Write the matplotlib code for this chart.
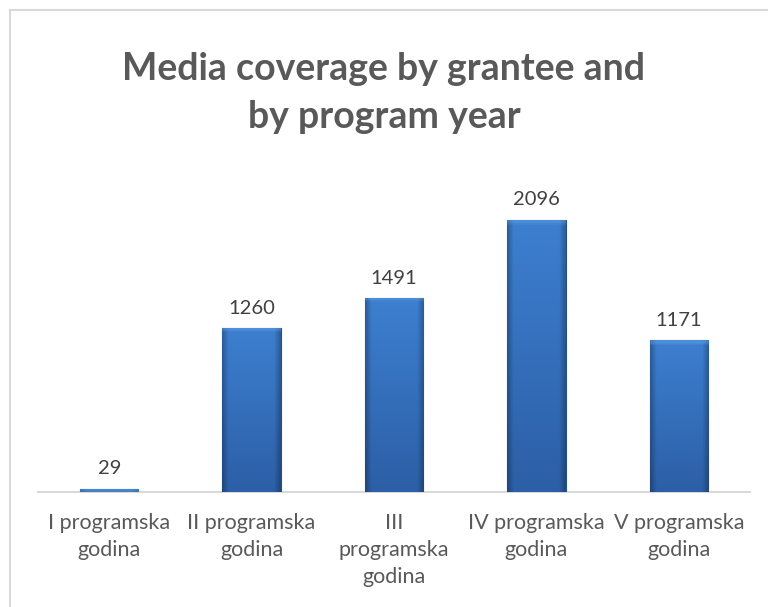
import matplotlib
matplotlib.use('Agg')
import matplotlib.pyplot as plt
import numpy as np
from matplotlib.colors import to_rgb

# data
categories = ['I programska\ngodina', 'II programska\ngodina', 'III\nprogramska\ngodina',
              'IV programska\ngodina', 'V programska\ngodina']
values = [29, 1260, 1491, 2096, 1171]

plt.rcParams['font.family'] = ['Lato', 'DejaVu Sans']

fig = plt.figure(figsize=(7.68, 6.07), dpi=100)
ax = fig.add_axes([0.0495, 0.189, 0.927, 0.536])

x = np.arange(len(values))
bars = ax.bar(x, values, width=0.41, color='#3470bf', edgecolor='#24508c', linewidth=0.8, zorder=3)

# simple bevel look: vertical shade plus darker side edges, clipped to each bar
top = np.array(to_rgb('#3d7fd0'))
bot = np.array(to_rgb('#2c5fa6'))
ny, nx = 60, 30
t = np.linspace(0, 1, ny)[:, None, None]
grad = top * (1 - t) + bot * t
grad = np.repeat(grad, nx, axis=1)
u = np.abs(np.linspace(-1, 1, nx))
side = np.clip((u - 0.8) / 0.2, 0, 1)[None, :, None]
grad = grad * (1 - 0.25 * side)
for b in bars:
    x0, w, h = b.get_x(), b.get_width(), b.get_height()
    img = grad.copy()
    # lighter band at the top of the bar
    band = max(1, int(ny * min(1.0, 40 / max(h, 1))))
    img[:band] = img[:band] * 0.6 + np.array(to_rgb('#6aa6e8')) * 0.4
    im = ax.imshow(img, extent=(x0, x0 + w, 0, h), aspect='auto', zorder=3.5,
                   interpolation='bilinear')
    im.set_clip_path(b)

for xi, v in zip(x, values):
    ax.text(xi, v + 85, str(v), ha='center', va='bottom', fontsize=14.5, color='#404040')

ax.set_xlim(-0.5, len(values) - 0.5)
ax.set_ylim(0, 2500)
ax.set_xticks(x)
ax.set_xticklabels(categories, fontsize=15.5, color='#595959', linespacing=1.42)
ax.tick_params(axis='x', length=0, pad=15)
ax.set_yticks([])
for s in ['left', 'right', 'top']:
    ax.spines[s].set_visible(False)
ax.spines['bottom'].set_color('#d9d9d9')
ax.spines['bottom'].set_linewidth(1.5)

fig.text(0.5, 0.846, 'Media coverage by grantee and\nby program year', ha='center', va='center',
         fontsize=27, fontweight='bold', color='#595959', linespacing=1.5)

# light chart border (left and top edges visible in the reference)
fig.add_artist(plt.Line2D([0.0125, 0.0125], [0, 0.983], color='#d9d9d9', lw=1.5, transform=fig.transFigure))
fig.add_artist(plt.Line2D([0.0125, 1.0], [0.983, 0.983], color='#d9d9d9', lw=1.5, transform=fig.transFigure))

fig.savefig('out.png', dpi=100)
